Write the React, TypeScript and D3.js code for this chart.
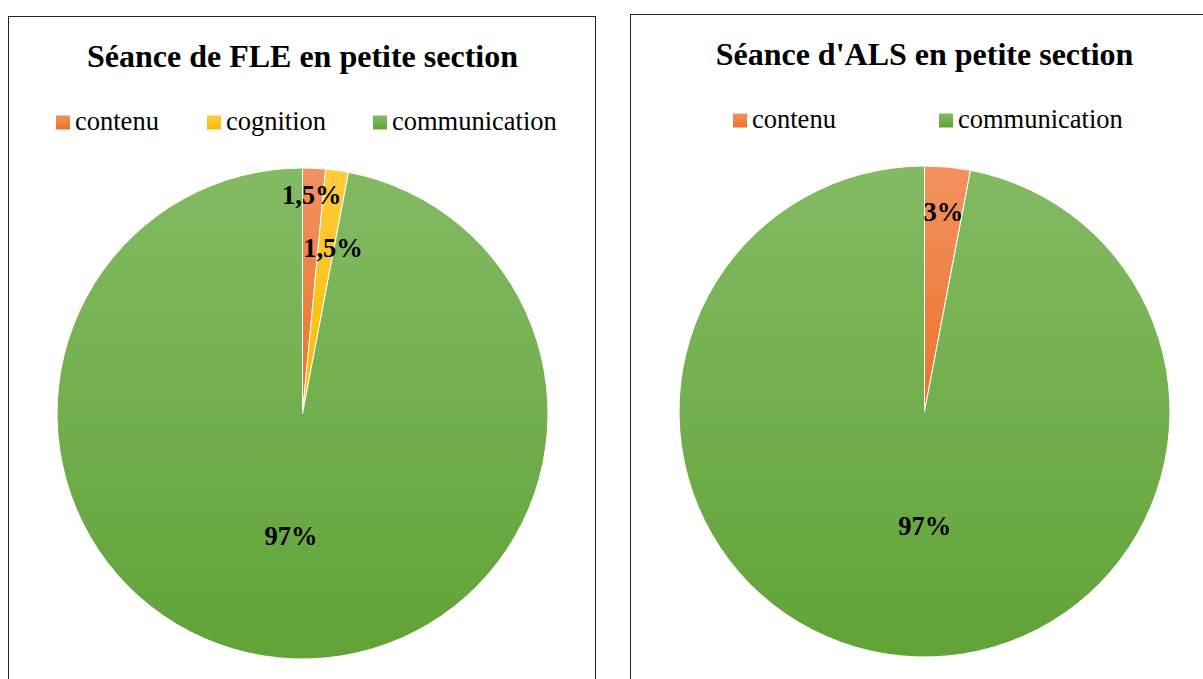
import * as d3 from "d3";

// FLE chart
const fleLabels = ["contenu", "cognition", "communication"];
const fleValues = [1.5, 1.5, 97];
const fleText = ["1,5%", "1,5%", "97%"];

// ALS chart
const alsLabels = ["contenu", "communication"];
const alsValues = [3, 97];
const alsText = ["3%", "97%"];

const colorOf: Record<string, [string, string]> = {
  contenu: ["#F39260", "#EB7229"],
  cognition: ["#FFCB3A", "#F7BC00"],
  communication: ["#83BA63", "#61A337"],
};

const FONT = "'Liberation Serif', 'Times New Roman', serif";
const W = 587, R = 245.5;

interface PanelProps {
  id: string;
  x: number;
  y: number;
  title: string;
  labels: string[];
  values: number[];
  texts: string[];
  legendX: number[];
  labelK: number[];
  labelDx: number[];
}

function Panel({ id, x, y, title, labels, values, texts, legendX, labelK, labelDx }: PanelProps) {
  const cx = x + 294, cy = y + 397;
  const pie = d3.pie<number>().sort(null).value((d) => d);
  const arcs = pie(values);
  const arc = d3.arc<d3.PieArcDatum<number>>().innerRadius(0).outerRadius(R);

  return (
    <g>
      <defs>
        {labels.map((l, i) => (
          <linearGradient key={l} id={`${id}-g${i}`} x1="0" y1="0" x2="0" y2="1">
            <stop offset="0%" stopColor={colorOf[l][0]} />
            <stop offset="100%" stopColor={colorOf[l][1]} />
          </linearGradient>
        ))}
      </defs>
      <rect x={x} y={y} width={W} height={700} fill="#fff" stroke="#222" strokeWidth={1} />
      <text x={x + 294} y={y + 50} textAnchor="middle" fontFamily={FONT} fontWeight="bold" fontSize={32} fill="#000">
        {title}
      </text>
      {labels.map((l, i) => (
        <g key={l}>
          <rect x={legendX[i]} y={y + 99} width={14} height={14} fill={`url(#${id}-g${i})`} />
          <text x={legendX[i] + 19} y={y + 113} fontFamily={FONT} fontSize={26.5} fill="#000">
            {l}
          </text>
        </g>
      ))}
      <g transform={`translate(${cx},${cy})`}>
        {arcs.map((a, i) => (
          <path key={i} d={arc(a) || ""} fill={`url(#${id}-g${i})`} stroke="#fff" strokeWidth={1} />
        ))}
        {arcs.map((a, i) => {
          const la = d3.arc<d3.PieArcDatum<number>>().innerRadius(R * labelK[i]).outerRadius(R * labelK[i]);
          const [lx, ly] = la.centroid(a);
          return (
            <text key={"t" + i} x={lx + labelDx[i]} y={ly} dy="0.34em" textAnchor="middle"
              fontFamily={FONT} fontWeight="bold" fontSize={26.5} fill="#000">
              {texts[i]}
            </text>
          );
        })}
      </g>
    </g>
  );
}

export default function App() {
  return (
    <svg width={1203} height={679} style={{ position: "absolute", left: 0, top: 0, background: "#fff" }}>
      <rect width={1203} height={679} fill="#fff" />
      <Panel id="fle" x={8.5} y={16.5} title="Séance de FLE en petite section"
        labels={fleLabels} values={fleValues} texts={fleText}
        legendX={[56, 207, 373]} labelK={[0.89, 0.68, 0.5]} labelDx={[-1, 7, 0]} />
      <Panel id="als" x={630.5} y={14.5} title="Séance d'ALS en petite section"
        labels={alsLabels} values={alsValues} texts={alsText}
        legendX={[733, 939]} labelK={[0.815, 0.47]} labelDx={[0, 11]} />
    </svg>
  );
}
